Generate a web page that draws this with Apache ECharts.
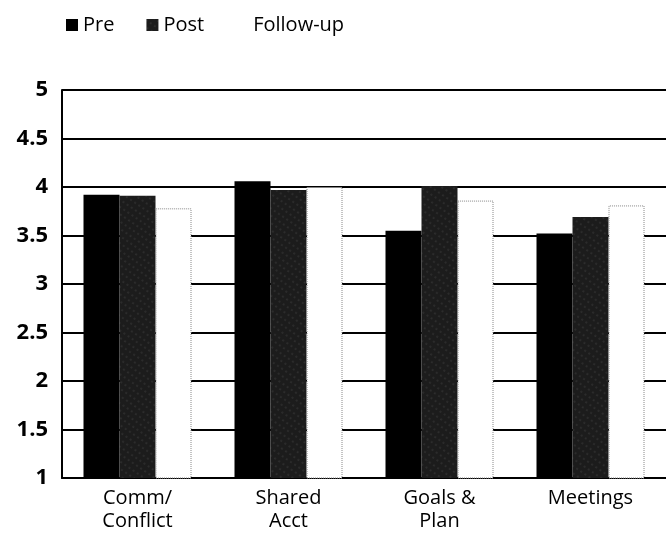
<!DOCTYPE html>
<html>
<head>
<meta charset="utf-8">
<script src="https://cdn.jsdelivr.net/npm/echarts@6/dist/echarts.min.js"></script>
<style>
  html, body { margin: 0; padding: 0; background: #fff; }
  #main { width: 666px; height: 535px; }
</style>
</head>
<body>
<div id="main"></div>
<script>
// categories and values
var categories = ['Comm/\nConflict', 'Shared\nAcct', 'Goals &\nPlan', 'Meetings'];
var pre = [3.92, 4.06, 3.55, 3.52];
var post = [3.91, 3.97, 4.01, 3.69];
var followUp = [3.78, 4.0, 3.86, 3.81];
var yTicks = { min: 1, max: 5, step: 0.5 };

var chart = echarts.init(document.getElementById('main'));
var font = 'Open Sans';

chart.setOption({
  animation: false,
  textStyle: { fontFamily: font },
  legend: {
    left: 61,
    top: 10,
    itemWidth: 12,
    itemHeight: 12,
    itemGap: 32,
    icon: 'rect',
    textStyle: { fontFamily: font, fontSize: 20, color: '#000' },
    data: ['Pre', 'Post', {
      name: 'Follow-up',
      itemStyle: { color: '#fff', borderColor: '#fff', borderWidth: 0 }
    }]
  },
  grid: { left: 62, right: 0, top: 90, bottom: 57 },
  xAxis: {
    type: 'category',
    data: categories,
    axisLine: { lineStyle: { color: '#000', width: 2 } },
    axisTick: { show: false },
    axisLabel: {
      color: '#000',
      fontFamily: font,
      fontSize: 20,
      lineHeight: 23,
      margin: 9
    }
  },
  yAxis: {
    type: 'value',
    min: yTicks.min,
    max: yTicks.max,
    interval: yTicks.step,
    axisLine: { show: true, lineStyle: { color: '#000', width: 2 } },
    axisTick: { show: false },
    splitLine: { lineStyle: { color: '#000', width: 2 } },
    axisLabel: {
      color: '#000',
      fontFamily: font,
      fontSize: 22,
      fontWeight: 'bold',
      margin: 14
    }
  },
  series: [{
    name: 'Pre',
    type: 'bar',
    data: pre,
    barWidth: 36,
    barGap: 0,
    itemStyle: { color: '#000' }
  }, {
    name: 'Post',
    type: 'bar',
    data: post,
    barWidth: 36,
    barGap: 0,
    itemStyle: {
      color: '#1c1c1c',
      decal: {
        symbol: 'circle',
        symbolSize: 0.5,
        color: 'rgba(255,255,255,0.35)',
        dashArrayX: [2, 3],
        dashArrayY: [2, 4],
        rotation: 0.6
      }
    }
  }, {
    name: 'Follow-up',
    type: 'bar',
    data: followUp,
    barWidth: 36,
    barGap: 0,
    itemStyle: {
      color: '#fff',
      borderColor: '#888',
      borderWidth: 1,
      borderType: 'dotted'
    }
  }]
});
</script>
</body>
</html>
